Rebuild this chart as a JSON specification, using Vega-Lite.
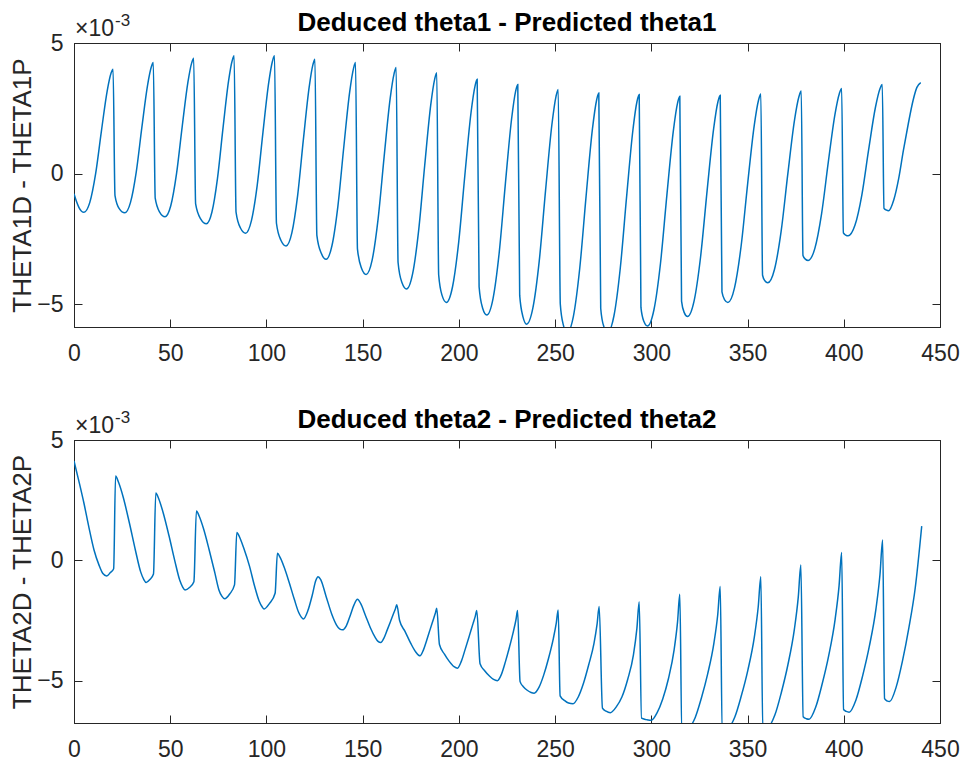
{
"$schema": "https://vega.github.io/schema/vega-lite/v6.json",
"background": "white",
"padding": {"left": 9, "top": 9, "right": 5, "bottom": 5},
"config": {
  "font": "Liberation Sans",
  "view": {"stroke": "#262626", "strokeWidth": 1},
  "axis": {"domainColor": "#262626", "tickColor": "#262626", "labelColor": "#262626", "titleColor": "#262626", "labelFont": "Liberation Sans", "labelFontSize": 23, "tickSize": -8, "tickWidth": 1, "domainWidth": 1, "grid": false, "titleFont": "Liberation Sans", "titleFontWeight": "normal", "titleFontSize": 26, "labelFlush": false},
  "title": {"font": "Liberation Sans", "fontSize": 26, "fontWeight": "bold", "color": "#000000", "anchor": "middle", "offset": -24},
  "concat": {"spacing": 40}
},
"datasets": {
"top": [
{"x":0,"value":-0.77},{"x":1.2,"value":-1.05},{"x":2.6,"value":-1.3},{"x":3.9,"value":-1.44},{"x":5.2,"value":-1.48},
{"x":8.22,"value":-1.10},{"x":11.24,"value":0.0},{"x":14.26,"value":1.64},{"x":17.28,"value":3.18},{"x":19.24,"value":3.84},{"x":20.3,"value":4.0},{"x":21.3,"value":-0.84},{"x":23.5,"value":-1.34},{"x":26.4,"value":-1.5},
{"x":29.36,"value":-1.10},{"x":32.32,"value":0.05},{"x":35.28,"value":1.78},{"x":38.24,"value":3.39},{"x":40.16,"value":4.08},{"x":41.2,"value":4.25},{"x":42.2,"value":-0.94},{"x":44.5,"value":-1.47},{"x":47.3,"value":-1.65},
{"x":50.28,"value":-1.23},{"x":53.26,"value":-0.01},{"x":56.24,"value":1.81},{"x":59.22,"value":3.51},{"x":61.16,"value":4.24},{"x":62.2,"value":4.42},{"x":63.2,"value":-1.16},{"x":65.8,"value":-1.73},{"x":68.8,"value":-1.92},
{"x":71.68,"value":-1.47},{"x":74.56,"value":-0.18},{"x":77.44,"value":1.75},{"x":80.32,"value":3.55},{"x":82.19,"value":4.32},{"x":83.2,"value":4.51},{"x":84.2,"value":-1.47},{"x":86.5,"value":-2.08},{"x":89.2,"value":-2.28},
{"x":92.2,"value":-1.80},{"x":95.2,"value":-0.45},{"x":98.2,"value":1.59},{"x":101.2,"value":3.49},{"x":103.15,"value":4.31},{"x":104.2,"value":4.51},{"x":105.2,"value":-1.90},{"x":107.5,"value":-2.55},{"x":110.2,"value":-2.77},
{"x":113.2,"value":-2.27},{"x":116.2,"value":-0.84},{"x":119.2,"value":1.31},{"x":122.2,"value":3.31},{"x":124.15,"value":4.17},{"x":125.2,"value":4.38},{"x":126.2,"value":-2.36},{"x":128.5,"value":-3.05},{"x":131,"value":-3.28},
{"x":134.06,"value":-2.75},{"x":137.12,"value":-1.25},{"x":140.18,"value":1.01},{"x":143.24,"value":3.12},{"x":145.23,"value":4.02},{"x":146.3,"value":4.25},{"x":147.3,"value":-2.89},{"x":149.4,"value":-3.62},{"x":151.8,"value":-3.86},
{"x":154.92,"value":-3.31},{"x":158.04,"value":-1.72},{"x":161.16,"value":0.65},{"x":164.28,"value":2.87},{"x":166.31,"value":3.82},{"x":167.4,"value":4.06},{"x":168.4,"value":-3.40},{"x":170.4,"value":-4.17},{"x":172.8,"value":-4.42},
{"x":175.94,"value":-3.84},{"x":179.08,"value":-2.18},{"x":182.22,"value":0.30},{"x":185.36,"value":2.62},{"x":187.4,"value":3.61},{"x":188.5,"value":3.86},{"x":189.5,"value":-3.88},{"x":191.3,"value":-4.67},{"x":193.5,"value":-4.93},
{"x":196.7,"value":-4.33},{"x":199.9,"value":-2.62},{"x":203.1,"value":-0.06},{"x":206.3,"value":2.33},{"x":208.38,"value":3.35},{"x":209.5,"value":3.61},{"x":210.5,"value":-4.33},{"x":212.3,"value":-5.14},{"x":214.5,"value":-5.41},
{"x":217.72,"value":-4.79},{"x":220.94,"value":-3.03},{"x":224.16,"value":-0.38},{"x":227.38,"value":2.09},{"x":229.47,"value":3.15},{"x":230.6,"value":3.41},{"x":231.6,"value":-4.66},{"x":233.3,"value":-5.48},{"x":235.2,"value":-5.76},
{"x":238.48,"value":-5.13},{"x":241.76,"value":-3.34},{"x":245.04,"value":-0.64},{"x":248.32,"value":1.87},{"x":250.45,"value":2.95},{"x":251.6,"value":3.22},{"x":252.7,"value":-5.0},{"x":254.3,"value":-5.8},{"x":256.2,"value":-6.1},
{"x":259.5,"value":-5.46},{"x":262.8,"value":-3.62},{"x":266.1,"value":-0.86},{"x":269.4,"value":1.71},{"x":271.55,"value":2.81},{"x":272.7,"value":3.09},{"x":273.7,"value":-5.16},{"x":275.3,"value":-5.85},{"x":277.3,"value":-6.08},
{"x":280.58,"value":-5.44},{"x":283.86,"value":-3.62},{"x":287.14,"value":-0.89},{"x":290.42,"value":1.66},{"x":292.55,"value":2.76},{"x":293.7,"value":3.03},{"x":294.6,"value":-5.12},{"x":296.1,"value":-5.65},{"x":298,"value":-5.83},
{"x":301.36,"value":-5.21},{"x":304.72,"value":-3.46},{"x":308.08,"value":-0.82},{"x":311.44,"value":1.64},{"x":313.62,"value":2.70},{"x":314.8,"value":2.96},{"x":315.7,"value":-4.88},{"x":317.1,"value":-5.32},{"x":318.8,"value":-5.47},
{"x":322.2,"value":-4.88},{"x":325.6,"value":-3.18},{"x":329.0,"value":-0.64},{"x":332.4,"value":1.73},{"x":334.61,"value":2.75},{"x":335.8,"value":3.0},{"x":336.7,"value":-4.53},{"x":338.1,"value":-4.83},{"x":339.8,"value":-4.93},
{"x":343.22,"value":-4.37},{"x":346.64,"value":-2.78},{"x":350.06,"value":-0.38},{"x":353.48,"value":1.85},{"x":355.7,"value":2.81},{"x":356.9,"value":3.05},{"x":357.8,"value":-3.89},{"x":359.0,"value":-4.1},{"x":360.5,"value":-4.18},
{"x":363.98,"value":-3.67},{"x":367.46,"value":-2.20},{"x":370.94,"value":0.0},{"x":374.42,"value":2.06},{"x":376.68,"value":2.94},{"x":377.9,"value":3.16},{"x":378.8,"value":-3.13},{"x":380,"value":-3.27},{"x":381.5,"value":-3.32},
{"x":384.98,"value":-2.86},{"x":388.46,"value":-1.54},{"x":391.94,"value":0.43},{"x":395.42,"value":2.27},{"x":397.68,"value":3.06},{"x":398.9,"value":3.26},{"x":399.8,"value":-2.27},{"x":401,"value":-2.35},{"x":402.3,"value":-2.38},
{"x":405.84,"value":-1.97},{"x":409.38,"value":-0.82},{"x":412.92,"value":0.92},{"x":416.46,"value":2.54},{"x":418.76,"value":3.24},{"x":420,"value":3.41},{"x":420.9,"value":-1.33},{"x":422,"value":-1.39},{"x":423.3,"value":-1.42},
{"x":426.0,"value":-1.0},{"x":428.5,"value":-0.2},{"x":431,"value":0.9},{"x":433.5,"value":1.9},{"x":436,"value":2.8},{"x":438,"value":3.3},{"x":440,"value":3.48}
],
"bot": [
{"x":0,"value":4.13},{"x":2.5,"value":3.3},{"x":5.2,"value":2.36},{"x":7.8,"value":1.35},{"x":10.4,"value":0.43},{"x":13.0,"value":-0.2},{"x":15.0,"value":-0.55},{"x":17.0,"value":-0.65},{"x":19.0,"value":-0.5},{"x":20.6,"value":-0.35},
{"x":21.6,"value":3.5},{"x":23.19,"value":3.23},{"x":25.58,"value":2.62},{"x":28.76,"value":1.56},{"x":31.94,"value":0.41},{"x":34.64,"value":-0.48},{"x":36.23,"value":-0.79},{"x":37.5,"value":-0.92},{"x":39.4,"value":-0.80},{"x":41.3,"value":-0.57},
{"x":42.5,"value":2.8},{"x":44.02,"value":2.56},{"x":46.3,"value":1.99},{"x":49.34,"value":1.03},{"x":52.38,"value":-0.02},{"x":54.96,"value":-0.83},{"x":56.48,"value":-1.11},{"x":57.7,"value":-1.23},{"x":60.0,"value":-1.13},{"x":62.3,"value":-0.89},
{"x":63.6,"value":2.05},{"x":65.07,"value":1.83},{"x":67.28,"value":1.32},{"x":70.22,"value":0.44},{"x":73.16,"value":-0.51},{"x":75.35,"value":-1.24},{"x":76.82,"value":-1.49},{"x":78.3,"value":-1.6},{"x":80.9,"value":-1.40},{"x":83.4,"value":-1.02},
{"x":84.6,"value":1.16},{"x":86.02,"value":0.97},{"x":88.15,"value":0.52},{"x":91.19,"value":-0.24},{"x":93.83,"value":-1.07},{"x":96.24,"value":-1.70},{"x":97.66,"value":-1.92},{"x":98.8,"value":-2.02},{"x":101.6,"value":-1.79},{"x":104.5,"value":-1.37},
{"x":105.7,"value":0.29},{"x":107.05,"value":0.13},{"x":109.08,"value":-0.26},{"x":111.78,"value":-0.91},{"x":114.48,"value":-1.62},{"x":116.77,"value":-2.17},{"x":118.12,"value":-2.36},{"x":119.2,"value":-2.44},
{"x":121.5,"value":-2.1},{"x":123.8,"value":-1.45},{"x":125.6,"value":-0.85},{"x":126.8,"value":-0.68},{"x":128.2,"value":-0.8},{"x":131,"value":-1.5},{"x":134,"value":-2.25},{"x":136.5,"value":-2.7},{"x":138,"value":-2.85},{"x":139.5,"value":-2.89},
{"x":141.5,"value":-2.72},{"x":143.5,"value":-2.3},{"x":145.5,"value":-1.85},{"x":147.3,"value":-1.62},{"x":149,"value":-1.8},{"x":151.5,"value":-2.3},{"x":154,"value":-2.8},{"x":156.5,"value":-3.2},{"x":158,"value":-3.37},{"x":159.4,"value":-3.42},
{"x":161.06,"value":-3.23},{"x":162.72,"value":-2.90},{"x":164.38,"value":-2.56},{"x":166.04,"value":-2.21},{"x":167.04,"value":-2.01},{"x":167.7,"value":-1.85},{"x":169.2,"value":-2.5},{"x":172,"value":-2.95},{"x":175,"value":-3.45},{"x":177.5,"value":-3.8},{"x":179.8,"value":-3.97},
{"x":181.54,"value":-3.73},{"x":183.28,"value":-3.32},{"x":185.02,"value":-2.88},{"x":186.76,"value":-2.45},{"x":187.8,"value":-2.19},{"x":188.5,"value":-1.99},{"x":189.9,"value":-3.5},{"x":192.5,"value":-3.9},{"x":195,"value":-4.2},{"x":197.5,"value":-4.42},{"x":199.3,"value":-4.48},
{"x":201.3,"value":-4.19},{"x":203.3,"value":-3.69},{"x":205.3,"value":-3.17},{"x":207.3,"value":-2.64},{"x":208.5,"value":-2.33},{"x":209.3,"value":-2.09},{"x":211,"value":-4.3},{"x":213.5,"value":-4.6},{"x":216,"value":-4.82},{"x":218,"value":-4.95},{"x":220,"value":-5.0},
{"x":222.1,"value":-4.74},{"x":224.2,"value":-4.21},{"x":226.3,"value":-3.60},{"x":228.4,"value":-2.93},{"x":229.66,"value":-2.47},{"x":230.5,"value":-2.09},{"x":231.8,"value":-5.04},{"x":233.5,"value":-5.25},{"x":235.5,"value":-5.4},{"x":237.5,"value":-5.49},{"x":239.1,"value":-5.52},
{"x":241.6,"value":-5.28},{"x":244.1,"value":-4.76},{"x":246.6,"value":-4.07},{"x":249.1,"value":-3.24},{"x":250.6,"value":-2.61},{"x":251.6,"value":-2.06},{"x":252.6,"value":-5.63},{"x":255,"value":-5.83},{"x":257,"value":-5.93},{"x":259.3,"value":-5.96},
{"x":262.02,"value":-5.68},{"x":264.74,"value":-5.11},{"x":267.46,"value":-4.34},{"x":270.18,"value":-3.46},{"x":271.81,"value":-2.65},{"x":272.9,"value":-1.92},{"x":274.6,"value":-6.14},{"x":276.5,"value":-6.27},{"x":278.7,"value":-6.33},
{"x":281.7,"value":-6.10},{"x":284.7,"value":-5.68},{"x":287.7,"value":-4.95},{"x":290.7,"value":-3.93},{"x":292.5,"value":-2.83},{"x":293.7,"value":-1.72},{"x":294.9,"value":-6.56},{"x":297.5,"value":-6.62},{"x":300,"value":-6.65},
{"x":302.96,"value":-6.34},{"x":305.92,"value":-5.76},{"x":308.88,"value":-4.92},{"x":311.84,"value":-3.72},{"x":313.62,"value":-2.56},{"x":314.8,"value":-1.41},{"x":315.8,"value":-6.85},{"x":319.3,"value":-6.95},
{"x":322.76,"value":-6.54},{"x":326.02,"value":-5.72},{"x":329.28,"value":-4.72},{"x":332.54,"value":-3.43},{"x":334.5,"value":-2.26},{"x":335.8,"value":-1.09},{"x":336.8,"value":-6.85},{"x":340,"value":-6.95},
{"x":343.38,"value":-6.51},{"x":346.76,"value":-5.63},{"x":350.14,"value":-4.57},{"x":353.52,"value":-3.19},{"x":355.55,"value":-1.93},{"x":356.9,"value":-0.68},{"x":357.9,"value":-6.85},{"x":360.8,"value":-6.9},
{"x":364.18,"value":-6.43},{"x":367.56,"value":-5.49},{"x":370.94,"value":-4.35},{"x":374.32,"value":-2.87},{"x":376.35,"value":-1.53},{"x":377.7,"value":-0.19},{"x":378.9,"value":-6.5},{"x":380.5,"value":-6.58},{"x":382,"value":-6.6},
{"x":385.38,"value":-6.11},{"x":388.76,"value":-5.14},{"x":392.14,"value":-3.97},{"x":395.52,"value":-2.44},{"x":397.55,"value":-1.06},{"x":398.9,"value":0.33},{"x":399.9,"value":-6.2},{"x":401.3,"value":-6.28},{"x":402.8,"value":-6.31},
{"x":406.28,"value":-5.81},{"x":409.76,"value":-4.81},{"x":413.24,"value":-3.59},{"x":416.72,"value":-2.02},{"x":418.81,"value":-0.59},{"x":420.2,"value":0.84},{"x":421.2,"value":-5.75},{"x":422.4,"value":-5.84},{"x":423.8,"value":-5.87},
{"x":427.14,"value":-5.29},{"x":430.48,"value":-4.19},{"x":433.82,"value":-2.81},{"x":437.16,"value":-1.13},{"x":440.5,"value":1.42}
],
"expo": [{"x": 0, "value": 5, "base": "×10", "sup": "-3"}]
},
"vconcat": [
{
  "title": {"text": "Deduced theta1 - Predicted theta1"},
  "width": 866, "height": 284,
  "layer": [
    {
      "data": {"name": "top"},
      "mark": {"type": "line", "color": "#0072BD", "strokeWidth": 1.5, "clip": true, "interpolate": "monotone"},
      "encoding": {
        "x": {"field": "x", "type": "quantitative", "scale": {"domain": [0, 450], "nice": false, "zero": false}, "axis": {"orient": "bottom", "values": [0,50,100,150,200,250,300,350,400,450], "title": null, "labelPadding": 23}},
        "y": {"field": "value", "type": "quantitative", "scale": {"domain": [-5.87, 5], "nice": false, "zero": false}, "axis": {"orient": "left", "values": [-5,0,5], "title": "THETA1D - THETA1P", "labelPadding": 19, "titlePadding": 1}}
      }
    },
    {
      "data": {"name": "top"},
      "mark": {"type": "line", "strokeOpacity": 0},
      "encoding": {
        "x": {"field": "x", "type": "quantitative", "axis": {"orient": "top", "values": [0,50,100,150,200,250,300,350,400,450], "labels": false, "title": null}},
        "y": {"field": "value", "type": "quantitative", "axis": {"orient": "right", "values": [-5,0,5], "labels": false, "title": null}}
      }
    },
    {
      "data": {"name": "expo"},
      "mark": {"type": "text", "align": "left", "baseline": "alphabetic", "dx": 1, "dy": -7, "fontSize": 23, "color": "#262626", "font": "Liberation Sans"},
      "encoding": {
        "x": {"field": "x", "type": "quantitative", "axis": null},
        "y": {"field": "value", "type": "quantitative", "axis": null},
        "text": {"field": "base"}
      }
    },
    {
      "data": {"name": "expo"},
      "mark": {"type": "text", "align": "left", "baseline": "alphabetic", "dx": 41, "dy": -17, "fontSize": 17, "color": "#262626", "font": "Liberation Sans"},
      "encoding": {
        "x": {"field": "x", "type": "quantitative", "axis": null},
        "y": {"field": "value", "type": "quantitative", "axis": null},
        "text": {"field": "sup"}
      }
    }
  ],
  "resolve": {"axis": {"x": "independent", "y": "independent"}}
},
{
  "title": {"text": "Deduced theta2 - Predicted theta2"},
  "width": 866, "height": 283,
  "layer": [
    {
      "data": {"name": "bot"},
      "mark": {"type": "line", "color": "#0072BD", "strokeWidth": 1.5, "clip": true, "interpolate": "monotone"},
      "encoding": {
        "x": {"field": "x", "type": "quantitative", "scale": {"domain": [0, 450], "nice": false, "zero": false}, "axis": {"orient": "bottom", "values": [0,50,100,150,200,250,300,350,400,450], "title": null, "labelPadding": 23}},
        "y": {"field": "value", "type": "quantitative", "scale": {"domain": [-6.76, 5], "nice": false, "zero": false}, "axis": {"orient": "left", "values": [-5,0,5], "title": "THETA2D - THETA2P", "labelPadding": 19, "titlePadding": 1}}
      }
    },
    {
      "data": {"name": "bot"},
      "mark": {"type": "line", "strokeOpacity": 0},
      "encoding": {
        "x": {"field": "x", "type": "quantitative", "axis": {"orient": "top", "values": [0,50,100,150,200,250,300,350,400,450], "labels": false, "title": null}},
        "y": {"field": "value", "type": "quantitative", "axis": {"orient": "right", "values": [-5,0,5], "labels": false, "title": null}}
      }
    },
    {
      "data": {"name": "expo"},
      "mark": {"type": "text", "align": "left", "baseline": "alphabetic", "dx": 1, "dy": -7, "fontSize": 23, "color": "#262626", "font": "Liberation Sans"},
      "encoding": {
        "x": {"field": "x", "type": "quantitative", "axis": null},
        "y": {"field": "value", "type": "quantitative", "axis": null},
        "text": {"field": "base"}
      }
    },
    {
      "data": {"name": "expo"},
      "mark": {"type": "text", "align": "left", "baseline": "alphabetic", "dx": 41, "dy": -17, "fontSize": 17, "color": "#262626", "font": "Liberation Sans"},
      "encoding": {
        "x": {"field": "x", "type": "quantitative", "axis": null},
        "y": {"field": "value", "type": "quantitative", "axis": null},
        "text": {"field": "sup"}
      }
    }
  ],
  "resolve": {"axis": {"x": "independent", "y": "independent"}}
}
]
}
